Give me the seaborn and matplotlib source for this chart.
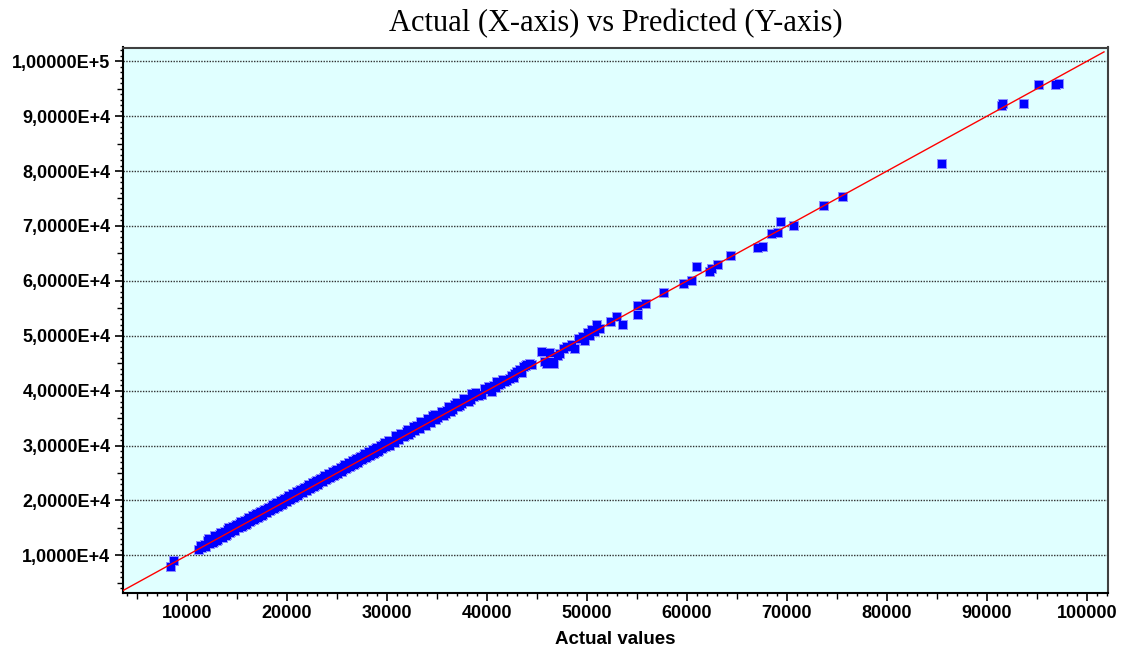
import matplotlib
matplotlib.use("Agg")
import matplotlib.pyplot as plt
import seaborn as sns
import pandas as pd
from matplotlib.ticker import MultipleLocator, FixedLocator, FixedFormatter
from matplotlib.font_manager import FontProperties

# ---------------- data ----------------
actual = [
    8400, 8700,
    11200, 11500, 11800, 12100, 12300, 12500, 12700, 12900, 13100, 13300, 13500, 13700, 13900,
    14100, 14300, 14500, 14700, 14900, 15100, 15300, 15500, 15700, 15900, 16100, 16300, 16500,
    16700, 16900, 17100, 17300, 17500, 17700, 17900, 18100, 18300, 18500, 18700, 18900, 19100,
    19300, 19500, 19700, 19900, 20100, 20300, 20500, 20700, 20900, 21100, 21300, 21500, 21700,
    21900, 22100, 22300, 22500, 22700, 22900, 23100, 23300, 23500, 23700, 23900, 24100, 24300,
    24500, 24700, 24900, 25100, 25300, 25500, 25700, 25900, 26100, 26300, 26500, 26700, 26900,
    27100, 27300, 27500, 27700, 27900, 28100, 28300, 28500, 28700, 28900, 29100, 29300, 29500,
    29700, 29900, 30100, 30300, 30500, 30800, 31000, 31200, 31500, 31700, 32000, 32200, 32500,
    32800, 33000, 33300, 33600, 33900, 34200, 34600, 34900, 35300, 35700, 36000, 36400, 36800,
    37100, 37500, 37900, 38200, 38500, 38700,
    11400, 11900, 12200, 12600, 12800, 13000, 13400, 13600, 13800, 14000, 14200, 14400, 14600,
    14800, 15000, 15200, 15400, 15600, 15800, 16000, 16200, 16400, 16600, 16800, 17000, 17200,
    17400, 17600, 17800, 18000, 18200, 18400, 18600, 18800, 19000, 19200, 19400, 19600, 19800,
    20000, 20200, 20400, 20600, 20800, 21000, 21200, 21400, 21600, 21800, 22000, 22200, 22400,
    22600, 22800, 23000, 23200, 23400, 23600, 23800, 24000, 24200, 24400, 24600, 24800, 25000,
    25200, 25400, 25600, 25800, 26000, 26200, 26400, 26600, 26800, 27000, 27200, 27400, 27600,
    27800, 28000, 28200, 28400, 28600, 28800, 29000, 29200, 29400, 29600, 29800, 30000, 30200,
    30600, 30900, 31100, 31400, 31800, 32100, 32400, 32700, 33100, 33400, 33800, 34100, 34400,
    34800, 35100, 35500, 35900, 36200, 36600, 37000, 37300, 37700, 38000, 38400, 38900, 39200,
    39800, 40700, 41200, 41600, 42000, 42500, 43000, 43500, 43900, 44500,
    39500, 40000, 40200, 40500, 40900, 41000, 41400, 41800, 42300, 42700, 42800, 43300, 43700,
    44000, 44300, 45500, 45800, 46000, 46300, 46600, 46700, 47100, 47300, 47700, 48000, 48500,
    48800, 49200, 49600, 49800, 50100, 50300, 50500, 50800, 51000, 51300, 52400, 53000, 53600,
    55100, 55100, 55900, 57700, 59700, 60500, 61000, 62300, 62500, 63100, 64400, 67100, 67600,
    68500, 69100, 69400, 70700, 73700, 75600,
    85500, 91500, 91600, 93700, 95200, 96900, 97200,
]
predicted = [
    7900, 8900,
    11000, 11300, 11900, 12600, 12000, 13000, 12500, 13300, 12800, 13700, 13300, 13900, 13500,
    14600, 14000, 14900, 14400, 15300, 14900, 15700, 15200, 16000, 15600, 16500, 16000, 16800,
    16400, 17300, 16900, 17700, 17200, 18000, 17700, 18500, 18100, 18800, 18400, 19300, 18900,
    19600, 19200, 20100, 19700, 20500, 20100, 20900, 20500, 21200, 20900, 21700, 21300, 22100,
    21700, 22400, 22100, 22900, 22500, 23300, 22900, 23800, 23300, 24100, 23700, 24500, 24100,
    24900, 24500, 25300, 24900, 25600, 25200, 26100, 25700, 26500, 26100, 26900, 26500, 27300,
    26900, 27800, 27300, 28100, 27700, 28500, 28100, 28900, 28500, 29300, 28900, 29600, 29300,
    30100, 29700, 30500, 30000, 30900, 30500, 31400, 31000, 31900, 31500, 32500, 32000, 32800,
    32600, 33600, 33100, 34000, 33600, 34500, 35300, 34700, 35600, 35400, 36300, 36200, 37300,
    37000, 37600, 38500, 37900, 39400, 38900,
    11700, 11500, 12900, 12300, 13500, 12700, 14000, 13100, 14300, 13700, 14900, 14200, 15200,
    14500, 15600, 15000, 16000, 15400, 16300, 15800, 16800, 16200, 17100, 16600, 17500, 17000,
    17900, 17400, 18300, 17800, 18700, 18200, 19100, 18600, 19500, 19000, 19900, 19400, 20300,
    19800, 20800, 20300, 21100, 20600, 21500, 21100, 22000, 21400, 22300, 21800, 22800, 22300,
    23100, 22600, 23600, 23100, 24000, 23400, 24400, 23900, 24800, 24300, 25200, 24700, 25500,
    25100, 26000, 25500, 26400, 25900, 26800, 26300, 27200, 26700, 27500, 27100, 28000, 27500,
    28400, 27900, 28800, 28300, 29200, 28700, 29500, 29100, 30000, 29500, 30400, 29900, 30800,
    30500, 31700, 31000, 32100, 31700, 32800, 32300, 33300, 33000, 34300, 33700, 34900, 34200,
    35600, 35000, 36100, 35700, 37000, 36400, 37700, 37200, 38400, 38200, 38300, 39500, 39000,
    40300, 40900, 41000, 42000, 41800, 42600, 43400, 43300, 44500, 44700,
    39300, 40100, 40700, 39800, 40400, 41600, 41300, 41600, 42200, 42300, 43100, 43700, 44300,
    44600, 44900, 47000, 45200, 44900, 46800, 45200, 44900, 46400, 46700, 47500, 47900, 48300,
    47600, 49500, 49700, 49000, 50500, 50000, 51000, 50700, 51900, 51200, 52500, 53400, 52000,
    55500, 53700, 55800, 57700, 59400, 59900, 62600, 61600, 62200, 62800, 64500, 66000, 66200,
    68600, 68700, 70800, 70000, 73600, 75200,
    81200, 91800, 92300, 92300, 95600, 95600, 95800,
]

# reference line (predicted = actual) end points
line_x = [3600, 101700]
line_y = [3600, 101700]

x_ticks = [10000, 20000, 30000, 40000, 50000, 60000, 70000, 80000, 90000, 100000]
x_tick_labels = ["10000", "20000", "30000", "40000", "50000", "60000", "70000", "80000",
                 "90000", "100000"]
y_ticks = [10000, 20000, 30000, 40000, 50000, 60000, 70000, 80000, 90000, 100000]
y_tick_labels = ["1,0000E+4", "2,0000E+4", "3,0000E+4", "4,0000E+4", "5,0000E+4",
                 "6,0000E+4", "7,0000E+4", "8,0000E+4", "9,0000E+4", "1,00000E+5"]

title = "Actual (X-axis) vs Predicted (Y-axis)"
x_label = "Actual values"

df = pd.DataFrame({"actual": actual, "predicted": predicted})
ref = pd.DataFrame({"x": line_x, "y": line_y})

# ---------------- figure ----------------
fig = plt.figure(figsize=(11.29, 6.48), dpi=100)
ax = fig.add_axes([123 / 1129, 1 - 593 / 648, (1108 - 123) / 1129, (593 - 47.5) / 648])
ax.set_facecolor("#E0FFFF")

ax.set_xlim(3600, 102100)
ax.set_ylim(3150, 102500)

# grid (horizontal dotted only)
for yv in y_ticks:
    ax.axhline(yv, color="#303030", linestyle=(0, (1, 1)), linewidth=1.0, zorder=1)

# light halo layer, then solid blue squares on top
sns.scatterplot(data=df, x="actual", y="predicted", ax=ax, marker="s", s=56,
                color="#8C8CFF", linewidth=0, zorder=2, antialiased=False)
sns.scatterplot(data=df, x="actual", y="predicted", ax=ax, marker="s", s=40,
                color="#0000FF", linewidth=0, zorder=3, antialiased=False)
sns.lineplot(data=ref, x="x", y="y", ax=ax, color="#FF0000", linewidth=1.0, zorder=4)

# ticks
ax.xaxis.set_major_locator(FixedLocator(x_ticks))
ax.xaxis.set_major_formatter(FixedFormatter(x_tick_labels))
ax.yaxis.set_major_locator(FixedLocator(y_ticks))
ax.yaxis.set_major_formatter(FixedFormatter(y_tick_labels))
ax.xaxis.set_minor_locator(MultipleLocator(1000))
ax.yaxis.set_minor_locator(MultipleLocator(1000))

tick_font = FontProperties(family="Liberation Sans", weight="bold", size=13)
ax.tick_params(axis="both", which="major", direction="out", length=6, width=1.2, color="black")
ax.tick_params(axis="both", which="minor", direction="out", length=2.5, width=1.0, color="black")
ax.tick_params(axis="x", which="major", pad=3)
ax.tick_params(axis="y", which="major", pad=3)
for lab in ax.get_xticklabels() + ax.get_yticklabels():
    lab.set_fontproperties(tick_font)

# medium ticks at multiples of 5000
fig.canvas.draw()
for axis in (ax.xaxis, ax.yaxis):
    locs = axis.get_minorticklocs()
    for t, loc in zip(axis.get_minor_ticks(len(locs)), locs):
        if abs(loc % 5000) < 1e-6:
            t.tick1line.set_markersize(4)

ax.set_xlabel(x_label, family="Liberation Sans", weight="bold", size=13.5, labelpad=6)
ax.set_ylabel("")
ax.set_title(title, family="Liberation Serif", size=22, pad=12)

for side in ("left", "bottom"):
    ax.spines[side].set_color("black")
    ax.spines[side].set_linewidth(1.5)
for side in ("top", "right"):
    ax.spines[side].set_color("#404040")
    ax.spines[side].set_linewidth(1.5)

fig.savefig("out.png", dpi=100, facecolor="white")
